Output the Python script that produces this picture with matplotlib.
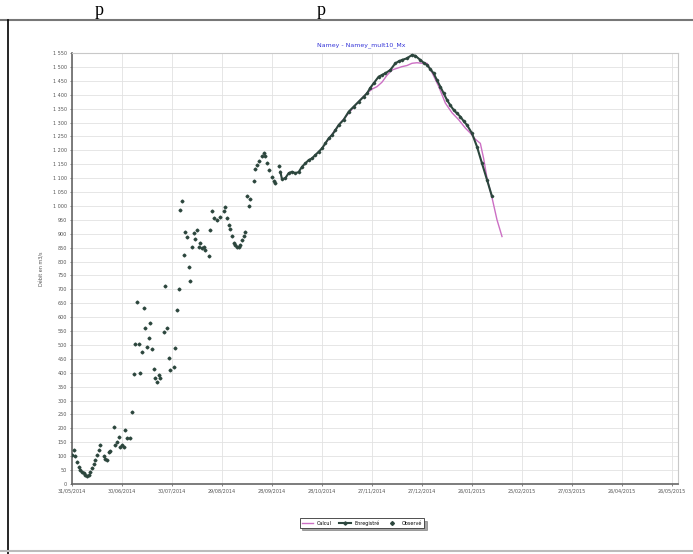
import numpy as np
import matplotlib
matplotlib.use("Agg")
import matplotlib.pyplot as plt
import matplotlib.dates as mdates
from matplotlib.ticker import FuncFormatter, MultipleLocator

# ---- data (day offset from 31/05/2014, discharge m3/s) ----
start = np.datetime64("2014-05-31")

obs_days = [0, 1, 2, 3, 4, 5, 6, 7, 8, 9, 10, 11, 12, 13, 14, 15, 16, 17, 19, 20,
            21, 22, 23, 25, 26, 27, 28, 29, 30, 31, 32, 33, 35, 36, 37, 38, 39, 40,
            41, 42, 43, 44, 45, 46, 47, 48, 49, 50, 51, 52, 53, 55, 56, 57, 58, 59,
            61, 62, 63, 64, 65, 66, 67, 68, 69, 70, 71, 72, 73, 74, 75, 76, 77, 78,
            79, 80, 82, 83, 84, 85, 87, 89, 91, 92, 93, 94, 95, 96, 97, 98, 99, 100,
            101, 102, 103, 104, 105, 106, 107, 109, 110, 111, 112, 114, 115, 116,
            117, 118, 120, 121, 122, 124]
obs_vals = [104, 122, 100, 80, 62, 52, 44, 38, 33, 30, 34, 44, 56, 72, 86, 104, 122, 140, 100, 90,
            86, 115, 120, 206, 140, 150, 170, 134, 140, 134, 194, 164, 164, 258, 394, 504, 656, 504,
            400, 476, 632, 560, 492, 524, 578, 484, 415, 380, 368, 392, 380, 548, 712, 560, 452, 410,
            422, 488, 626, 700, 986, 1018, 824, 908, 890, 782, 731, 851, 902, 880, 914, 854, 866, 848,
            854, 842, 820, 914, 980, 956, 950, 962, 980, 995, 956, 932, 916, 892, 866, 860, 854, 854,
            860, 878, 892, 908, 1037, 998, 1025, 1088, 1132, 1148, 1160, 1178, 1192, 1178,
            1156, 1130, 1105, 1091, 1084, 1144]

rec_days = [125, 126, 128, 130, 132, 134, 136, 138, 140, 142, 144, 146, 148, 150, 152,
            154, 156, 158, 160, 163, 166, 169, 172, 175, 177, 179, 181, 184, 186, 188,
            191, 194, 196, 198, 201, 204, 206, 209, 211, 213, 215, 217, 219, 221, 223,
            225, 227, 229, 231, 233, 235, 237, 240, 243, 246, 249, 252]
rec_vals = [1123, 1096, 1100, 1118, 1123, 1118, 1122, 1141, 1153, 1165, 1171, 1183, 1195, 1207, 1225,
            1243, 1255, 1272, 1291, 1310, 1339, 1357, 1375, 1393, 1405, 1425, 1441, 1465, 1471, 1477,
            1489, 1513, 1520, 1525, 1531, 1543, 1540, 1525, 1515, 1507, 1492, 1477, 1452, 1429, 1405,
            1381, 1362, 1345, 1333, 1321, 1305, 1291, 1261, 1213, 1153, 1094, 1034]

calc_days = [150, 160, 170, 176, 180, 183, 186, 189, 192, 195, 198, 201, 204, 207, 210,
             213, 216, 220, 224, 228, 232, 236, 239, 242, 245, 247, 249, 252, 255, 258]
calc_vals = [1207, 1291, 1362, 1400, 1420, 1429, 1445, 1470, 1489, 1495, 1501, 1505, 1513, 1515, 1513,
             1513, 1480, 1430, 1370, 1335, 1310, 1280, 1262, 1240, 1225, 1170, 1100, 1030, 950, 890]

tick_days = np.arange(0, 361, 30)
x_end = 363.6

day0 = mdates.date2num(start)


def to_dates(days):
    return day0 + np.asarray(days, dtype=float)


W, H = 693, 554
fig = plt.figure(figsize=(W / 100, H / 100), dpi=100)
fig.patch.set_facecolor("white")

ax = fig.add_axes([72 / W, 1 - 484 / H, (678 - 72) / W, (484 - 53) / H])

dark = "#2c463d"
pink = "#cc6fc4"

ax.plot(to_dates(calc_days), calc_vals, color=pink, lw=1.0, zorder=3, label="Calcul")
ax.plot(to_dates(rec_days), rec_vals, color=dark, lw=1.5, marker="D", ms=1.3,
        zorder=4, label="Enregistré")
ax.plot(to_dates(obs_days), obs_vals, ls="none", marker="D", ms=1.5, color=dark,
        zorder=4, label="Observé")

ax.set_xlim(day0, day0 + x_end)
ax.set_ylim(0, 1550)
ax.set_xticks(to_dates(tick_days))
ax.xaxis.set_major_formatter(mdates.DateFormatter("%d/%m/%Y"))
ax.yaxis.set_major_locator(MultipleLocator(50))
ax.yaxis.set_major_formatter(FuncFormatter(lambda v, p: f"{int(v):,}".replace(",", " ")))

ax.grid(True, color="#e2e2e2", lw=0.6)
ax.set_axisbelow(True)
ax.tick_params(labelsize=3.5, length=1.5, width=0.5, colors="#555555", pad=2)
for side in ["left", "bottom"]:
    ax.spines[side].set_color("#666666")
    ax.spines[side].set_linewidth(1.2)
for side in ["top", "right"]:
    ax.spines[side].set_color("#c8c8c8")
    ax.spines[side].set_linewidth(0.8)

ax.set_ylabel("Débit en m3/s", fontsize=3.5, color="#555555", labelpad=6)
fig.text(361 / W, 1 - 45 / H, "Namey - Namey_mult10_Mx", color="#3535d8",
         fontsize=4.5, ha="center", va="center")

leg = fig.legend(loc="center", bbox_to_anchor=(362 / W, 1 - 523 / H), ncol=3,
                 fontsize=3.5, frameon=True, fancybox=False, shadow=True,
                 handlelength=2.4, columnspacing=1.4, borderpad=0.4, markerscale=1.3)
leg.get_frame().set_edgecolor("#333333")
leg.get_frame().set_linewidth(0.6)

# document page borders around the pasted chart
fig.add_artist(plt.Line2D([0, 1], [1 - 20 / H] * 2, color="#777777", lw=1.5,
                          transform=fig.transFigure))
fig.add_artist(plt.Line2D([8 / W] * 2, [0, 1 - 20 / H], color="black", lw=1.2,
                          transform=fig.transFigure))
fig.add_artist(plt.Line2D([0, 1], [3 / H] * 2, color="#bbbbbb", lw=1.5,
                          transform=fig.transFigure))
for px in [99, 321]:
    fig.text(px / W, 1 - 19 / H, "p", family="Liberation Serif", fontsize=13,
             ha="center", va="bottom", color="black")

fig.savefig("out.png", dpi=100)
